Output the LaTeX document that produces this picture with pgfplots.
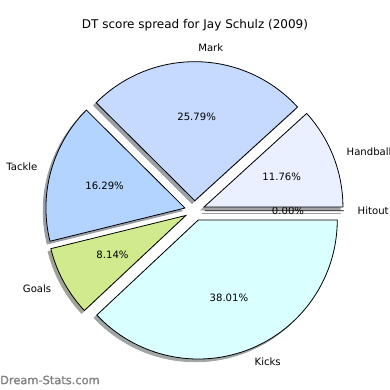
\documentclass[border=0pt]{standalone}
\usepackage{pgfplots}
\usepackage{pgfplotstable}
\pgfplotsset{compat=1.18}
\usepackage{fontspec}
\setmainfont{DejaVu Sans}
\newfontface\wmfont{DejaVu Sans}[FakeBold=1.2]

\definecolor{hitc}{RGB}{200,200,230}
\definecolor{handc}{RGB}{234,240,255}
\definecolor{markc}{RGB}{198,217,255}
\definecolor{tackc}{RGB}{179,212,255}
\definecolor{goalc}{RGB}{208,234,141}
\definecolor{kickc}{RGB}{217,255,255}
\definecolor{wmark}{RGB}{128,128,128}

\pgfplotstableread{
label pct col
Hitout 0.00 hitc
Handball 11.76 handc
Mark 25.79 markc
Tackle 16.29 tackc
Goals 8.14 goalc
Kicks 38.01 kickc
}\piedata

\def\explode{0.072}
\newcommand\labfont{\fontsize{10.1}{11}\selectfont}
\newcommand\titlefont{\fontsize{12}{14}\selectfont}

\begin{document}
\begin{tikzpicture}[x=1pt,y=1pt]
\begin{axis}[at={(0,0)}, anchor=south west, width=390pt, height=390pt,
  scale only axis, hide axis, clip=false,
  xmin=-1.4, xmax=1.4058, ymin=-1.2899, ymax=1.5158]
\coordinate (bl) at (rel axis cs:0,0);
\coordinate (tr) at (rel axis cs:1,1);
\pgfplotstablegetrowsof{\piedata}
\pgfmathtruncatemacro\lastrow{\pgfplotsretval-1}
% shadows
\def\cum{0}
\pgfplotsforeachungrouped \i in {0,...,\lastrow}{%
  \pgfplotstablegetelem{\i}{pct}\of\piedata \let\pct\pgfplotsretval
  \pgfplotstablegetelem{\i}{col}\of\piedata \let\col\pgfplotsretval
  \pgfmathsetmacro\aA{3.6*\cum}%
  \pgfmathsetmacro\aB{3.6*(\cum+\pct)+0.01}%
  \pgfmathsetmacro\mid{(\aA+\aB)/2}%
  \pgfmathsetmacro\dx{\explode*cos(\mid)-0.02}%
  \pgfmathsetmacro\dy{\explode*sin(\mid)-0.02}%
  \edef\temp{\noexpand\addplot[draw=\col!30!black!50!white, line width=0.8pt,
     fill=\col!30!black!50!white, domain=\aA:\aB, samples=90]
     ({\dx+cos(x)},{\dy+sin(x)}) -- (axis cs:\dx,\dy) -- cycle;}%
  \temp
  \pgfmathsetmacro\newcum{\cum+\pct}\let\cum\newcum
}
% wedges and labels
\def\cum{0}
\pgfplotsforeachungrouped \i in {0,...,\lastrow}{%
  \pgfplotstablegetelem{\i}{pct}\of\piedata \let\pct\pgfplotsretval
  \pgfplotstablegetelem{\i}{col}\of\piedata \let\col\pgfplotsretval
  \pgfplotstablegetelem{\i}{label}\of\piedata \let\lab\pgfplotsretval
  \pgfmathsetmacro\aA{3.6*\cum}%
  \pgfmathsetmacro\aB{3.6*(\cum+\pct)+0.01}%
  \pgfmathsetmacro\mid{(\aA+\aB)/2}%
  \pgfmathsetmacro\dx{\explode*cos(\mid)}%
  \pgfmathsetmacro\dy{\explode*sin(\mid)}%
  \pgfmathsetmacro\cm{cos(\mid)}%
  \pgfmathsetmacro\lx{\dx+1.1*cos(\mid)}%
  \pgfmathsetmacro\ly{\dy+1.1*sin(\mid)}%
  \pgfmathsetmacro\px{\dx+0.6*cos(\mid)}%
  \pgfmathsetmacro\py{\dy+0.6*sin(\mid)}%
  \ifdim\cm pt>0pt \def\anc{west}\else\def\anc{east}\fi
  \edef\temp{\noexpand\addplot[draw=black, line width=0.8pt, fill=\col,
     domain=\aA:\aB, samples=90]
     ({\dx+cos(x)},{\dy+sin(x)}) -- (axis cs:\dx,\dy) -- cycle;
   \noexpand\node[anchor=\anc, inner sep=0pt, font=\noexpand\labfont] at (axis cs:\lx,\ly) {\lab};
   \noexpand\node[anchor=center, inner sep=0pt, font=\noexpand\labfont] at (axis cs:\px,\py) {\pct\noexpand\%};}%
  \temp
  \pgfmathsetmacro\newcum{\cum+\pct}\let\cum\newcum
}
\node[font=\titlefont, inner sep=0pt] at (axis cs:0.003,1.336) {DT score spread for Jay Schulz (2009)};
\node[font=\wmfont\fontsize{11.4}{13}\selectfont, text=wmark, anchor=west, inner sep=0pt] at (axis cs:-1.4,-1.218) {Dream-Stats.com};
\end{axis}
\pgfresetboundingbox
\useasboundingbox (bl) rectangle (tr);
\end{tikzpicture}
\end{document}
